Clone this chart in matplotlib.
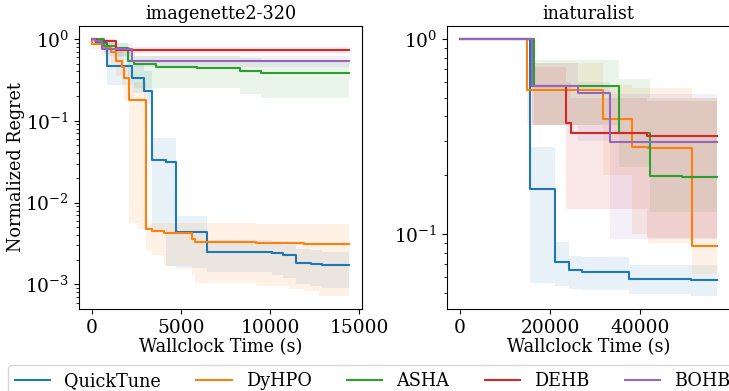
import matplotlib
matplotlib.use("Agg")
import matplotlib.pyplot as plt
import numpy as np

plt.rcParams['font.family'] = ['DejaVu Serif']
plt.rcParams['mathtext.fontset'] = 'dejavuserif'
plt.rcParams['font.size'] = 12.7
plt.rcParams['xtick.labelsize'] = 13.4
plt.rcParams['ytick.labelsize'] = 13.4

methods = ["QuickTune", "DyHPO", "ASHA", "DEHB", "BOHB"]
colors = ["tab:blue", "tab:orange", "tab:green", "tab:red", "tab:purple"]

# imagenette2-320: time, mean, lower, upper (step curves)
img_t = {
    "QuickTune": [0, 225, 850, 2250, 2920, 3370, 4160, 4720, 6460, 10100, 10740, 11450, 12290, 12900, 14440],
    "DyHPO": [0, 30, 675, 1070, 1350, 1690, 1800, 2080, 2600, 3030, 3370, 4050, 5620, 5790, 9200, 11070, 11910, 12760, 14440],
    "ASHA": [0, 675, 1350, 2020, 2360, 3580, 5900, 8320, 9520, 14440],
    "DEHB": [0, 225, 1350, 14440],
    "BOHB": [0, 200, 560, 2250, 14440],
}
img_y = {
    "QuickTune": [1.0, 0.9, 0.46, 0.33, 0.23, 0.033, 0.031, 0.0044, 0.0025, 0.0024, 0.00226, 0.00184, 0.00178, 0.00173, 0.00173],
    "DyHPO": [1.0, 0.86, 0.78, 0.70, 0.54, 0.45, 0.33, 0.18, 0.18, 0.0047, 0.0045, 0.0043, 0.0036, 0.0033, 0.00325, 0.0032, 0.00314, 0.0031, 0.0031],
    "ASHA": [1.0, 0.81, 0.78, 0.53, 0.49, 0.45, 0.44, 0.40, 0.38, 0.38],
    "DEHB": [1.0, 0.93, 0.73, 0.73],
    "BOHB": [1.0, 0.93, 0.76, 0.53, 0.53],
}
img_lo = {
    "QuickTune": [0.95, 0.85, 0.27, 0.22, 0.16, 0.0045, 0.0017, 0.0016, 0.0014, 0.0013, 0.0012, 0.001, 0.00095, 0.0009, 0.0009],
    "DyHPO": [0.95, 0.75, 0.65, 0.5, 0.35, 0.25, 0.18, 0.0057, 0.0048, 0.0026, 0.0023, 0.0017, 0.0013, 0.00104, 0.00095, 0.00088, 0.00083, 0.00072, 0.00072],
    "ASHA": [0.95, 0.7, 0.6, 0.3, 0.25, 0.25, 0.25, 0.21, 0.19, 0.19],
    "DEHB": [0.95, 0.85, 0.68, 0.68],
    "BOHB": [0.95, 0.85, 0.62, 0.45, 0.45],
}
img_hi = {
    "QuickTune": [1.0, 1.0, 0.7, 0.5, 0.4, 0.062, 0.062, 0.0069, 0.0035, 0.0032, 0.003, 0.0027, 0.0026, 0.0025, 0.0025],
    "DyHPO": [1.0, 0.95, 0.9, 0.85, 0.75, 0.6, 0.45, 0.3, 0.3, 0.0056, 0.0056, 0.0056, 0.0056, 0.0056, 0.0055, 0.0055, 0.0054, 0.0054, 0.0054],
    "ASHA": [1.0, 0.95, 0.9, 0.75, 0.62, 0.61, 0.61, 0.58, 0.55, 0.55],
    "DEHB": [1.0, 1.0, 0.79, 0.79],
    "BOHB": [1.0, 1.0, 0.9, 0.62, 0.62],
}

# inaturalist
inat_t = {
    "QuickTune": [0, 15550, 21100, 24200, 27000, 37550, 51250, 57050],
    "DyHPO": [0, 14800, 31700, 38150, 41800, 51500, 57050],
    "ASHA": [0, 16450, 35300, 42200, 49250, 57050],
    "DEHB": [0, 16000, 23500, 24650, 41500, 57050],
    "BOHB": [0, 16000, 26150, 33300, 57050],
}
inat_y = {
    "QuickTune": [1.0, 0.17, 0.072, 0.065, 0.0636, 0.059, 0.058, 0.058],
    "DyHPO": [1.0, 0.55, 0.39, 0.28, 0.275, 0.087, 0.087],
    "ASHA": [1.0, 0.576, 0.33, 0.198, 0.195, 0.195],
    "DEHB": [1.0, 0.57, 0.37, 0.33, 0.318, 0.318],
    "BOHB": [1.0, 0.57, 0.53, 0.297, 0.297],
}
inat_lo = {
    "QuickTune": [1.0, 0.056, 0.054, 0.052, 0.0515, 0.049, 0.048, 0.048],
    "DyHPO": [1.0, 0.36, 0.2, 0.1, 0.09, 0.062, 0.062],
    "ASHA": [1.0, 0.36, 0.22, 0.13, 0.13, 0.13],
    "DEHB": [1.0, 0.36, 0.134, 0.134, 0.095, 0.095],
    "BOHB": [1.0, 0.36, 0.3, 0.094, 0.094],
}
inat_hi = {
    "QuickTune": [1.0, 0.28, 0.091, 0.077, 0.076, 0.069, 0.069, 0.069],
    "DyHPO": [1.0, 0.75, 0.58, 0.56, 0.56, 0.5, 0.5],
    "ASHA": [1.0, 0.78, 0.62, 0.5, 0.5, 0.5],
    "DEHB": [1.0, 0.72, 0.6, 0.5, 0.48, 0.48],
    "BOHB": [1.0, 0.75, 0.6, 0.52, 0.52],
}

fig = plt.figure(figsize=(7.29, 3.91), dpi=100)
ax1 = fig.add_axes([79 / 729, 1 - 309 / 391, 283 / 729, 283 / 391])
ax2 = fig.add_axes([447 / 729, 1 - 309 / 391, 283 / 729, 283 / 391])

for ax, T, Y, LO, HI, title in [
    (ax1, img_t, img_y, img_lo, img_hi, "imagenette2-320"),
    (ax2, inat_t, inat_y, inat_lo, inat_hi, "inaturalist"),
]:
    for m, c in zip(methods, colors):
        ax.step(T[m], Y[m], where="post", color=c, lw=1.5, label=m)
        ax.fill_between(T[m], LO[m], HI[m], step="post", color=c, alpha=0.1, lw=0)
    ax.set_yscale("log")
    ax.set_title(title, fontsize=12.7, pad=5)
    ax.set_xlabel("Wallclock Time (s)", labelpad=1)

ax1.set_ylabel("Normalized Regret", labelpad=0)

handles, labels = ax1.get_legend_handles_labels()
fig.legend(handles, labels, loc="upper left", ncol=5,
           bbox_to_anchor=(8 / 729, 1 - 365 / 391), borderaxespad=0)

fig.savefig("out.png", dpi=100)
